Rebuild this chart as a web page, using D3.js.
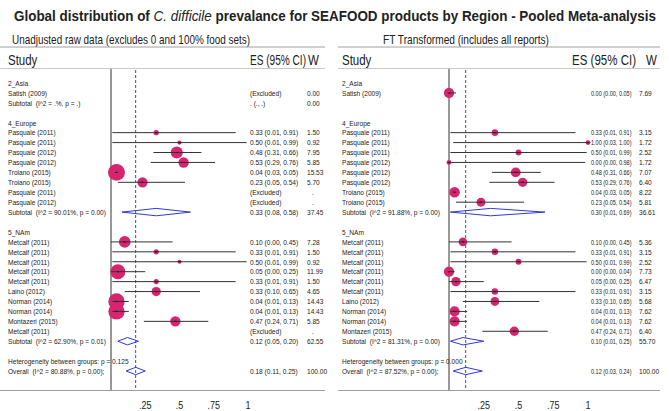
<!DOCTYPE html>
<html>
<head>
<meta charset="utf-8">
<script src="https://cdn.jsdelivr.net/npm/d3@7"></script>
<style>
  body { margin: 0; background: #fff; }
  svg text { font-family: "Liberation Sans", Arial, sans-serif; fill: #222; white-space: pre; }
</style>
</head>
<body>
<div id="chart"></div>
<script>
// ---- data (row index = position in the list) ----
var ticks = [0.25, 0.5, 0.75, 1];
var tickLabels = [".25", ".5", ".75", "1"];

// kinds: h = group header, s = study, x = excluded, t = subtotal, n = empty subtotal, g = heterogeneity, o = overall, "" = blank
var labelsL = ["2_Asia", "Satish (2009)", "Subtotal  (I^2 = .%, p = .)", "", "4_Europe",
  "Pasquale (2011)", "Pasquale (2011)", "Pasquale (2012)", "Pasquale (2012)", "Troiano (2015)", "Troiano (2015)",
  "Pasquale (2011)", "Pasquale (2012)", "Subtotal  (I^2 = 90.01%, p = 0.00)", "", "5_NAm",
  "Metcalf (2011)", "Metcalf (2011)", "Metcalf (2011)", "Metcalf (2011)", "Metcalf (2011)", "Laino (2012)",
  "Norman (2014)", "Norman (2014)", "Montazeri (2015)", "Metcalf (2011)", "Subtotal  (I^2 = 62.90%, p = 0.01)", "",
  "Heterogeneity between groups: p = 0.125", "Overall  (I^2 = 80.88%, p = 0.00);"];
var kindsL = ["h","x","n","","h","s","s","s","s","s","s","x","x","t","","h","s","s","s","s","s","s","s","s","s","x","t","","g","o"];
var esL = [null,null,null,null,null,0.33,0.50,0.48,0.53,0.04,0.23,null,null,0.33,null,null,0.10,0.33,0.50,0.05,0.33,0.33,0.04,0.04,0.47,null,0.12,null,null,0.18];
var loL = [null,null,null,null,null,0.01,0.01,0.31,0.29,0.03,0.05,null,null,0.08,null,null,0.00,0.01,0.01,0.00,0.01,0.10,0.01,0.01,0.24,null,0.05,null,null,0.11];
var hiL = [null,null,null,null,null,0.91,0.99,0.66,0.76,0.05,0.54,null,null,0.58,null,null,0.45,0.91,0.99,0.25,0.91,0.65,0.13,0.13,0.71,null,0.20,null,null,0.25];
var wL  = [null,0,0,null,null,1.50,0.92,7.95,5.85,15.53,5.70,null,null,37.45,null,null,7.28,1.50,0.92,11.99,1.50,4.65,14.43,14.43,5.85,null,62.55,null,null,100.00];
var pooledL = 0.18;

var labelsR = ["2_Asia", "Satish (2009)", "", "", "4_Europe",
  "Pasquale (2011)", "Pasquale (2011)", "Pasquale (2011)", "Pasquale (2012)", "Pasquale (2012)", "Pasquale (2012)",
  "Troiano (2015)", "Troiano (2015)", "Subtotal  (I^2 = 91.88%, p = 0.00)", "", "5_NAm",
  "Metcalf (2011)", "Metcalf (2011)", "Metcalf (2011)", "Metcalf (2011)", "Metcalf (2011)", "Metcalf (2011)",
  "Laino (2012)", "Norman (2014)", "Norman (2014)", "Montazeri (2015)", "Subtotal  (I^2 = 81.31%, p = 0.00)", "",
  "Heterogeneity between groups: p = 0.000", "Overall  (I^2 = 87.52%, p = 0.00);"];
var kindsR = ["h","s","","","h","s","s","s","s","s","s","s","s","t","","h","s","s","s","s","s","s","s","s","s","s","t","","g","o"];
var esR = [null,0.00,null,null,null,0.33,1.00,0.50,0.00,0.48,0.53,0.04,0.23,0.30,null,null,0.10,0.33,0.50,0.00,0.05,0.33,0.33,0.04,0.04,0.47,0.10,null,null,0.12];
var loR = [null,0.00,null,null,null,0.01,0.03,0.01,0.00,0.31,0.29,0.03,0.05,0.01,null,null,0.00,0.01,0.01,0.00,0.00,0.01,0.10,0.01,0.01,0.24,0.01,null,null,0.03];
var hiR = [null,0.05,null,null,null,0.91,1.00,0.99,0.98,0.66,0.76,0.05,0.54,0.69,null,null,0.45,0.91,0.99,0.04,0.25,0.91,0.65,0.13,0.13,0.71,0.25,null,null,0.24];
var wR  = [null,7.69,null,null,null,3.15,1.72,2.52,1.72,7.07,6.40,8.22,5.81,36.61,null,null,5.36,3.15,2.52,7.73,6.47,3.15,5.68,7.62,7.62,6.40,55.70,null,null,100.00];
var pooledR = 0.12;

var width = 669, height = 411;
var pink = "#d6246e", blue = "#2f3bd4", ink = "#333", rule = "#a0a0a0";
var fmt = d3.format(".2f");
var narrow = 0.82; // the original uses a condensed face

var svg = d3.select("#chart").append("svg")
    .attr("width", width)
    .attr("height", height);

function squeeze(sel, f) {
    sel.each(function () {
        var len = this.getComputedTextLength();
        if (len > 0) d3.select(this).attr("textLength", len * f).attr("lengthAdjust", "spacingAndGlyphs");
    });
}

// title
var title = svg.append("text")
    .attr("x", 14).attr("y", 21)
    .attr("textLength", 642).attr("lengthAdjust", "spacingAndGlyphs")
    .style("font-size", "15px").style("font-weight", "bold");
title.append("tspan").text("Global distribution of ");
title.append("tspan").style("font-style", "italic").style("font-weight", "normal").text("C. difficile");
title.append("tspan").text(" prevalance for SEAFOOD products by Region - Pooled Meta-analysis");

// rows -> y
var y = d3.scaleLinear().domain([0, 29]).range([83, 371]);

function panel(cfg, labels, kinds, es, lo, hi, w, pooled) {
    var g = svg.append("g");
    var x = d3.scaleLinear().domain([0, 1]).range([cfg.x0, cfg.x1]);
    var r = function (v) { return cfg.k * Math.sqrt(v); };

    g.append("text").attr("x", cfg.subX).attr("y", 44)
        .attr("textLength", cfg.subLen).attr("lengthAdjust", "spacingAndGlyphs")
        .style("font-size", "13px").text(cfg.sub);
    g.append("line").attr("x1", cfg.rule[0]).attr("x2", cfg.rule[1]).attr("y1", 47).attr("y2", 47)
        .attr("stroke", rule).attr("stroke-width", 1);
    g.append("line").attr("x1", cfg.rule[0]).attr("x2", cfg.rule[1]).attr("y1", 68.5).attr("y2", 68.5)
        .attr("stroke", "#c8c8c8").attr("stroke-width", 1);
    g.append("line").attr("x1", cfg.rule[0]).attr("x2", cfg.rule[1]).attr("y1", 390.5).attr("y2", 390.5)
        .attr("stroke", rule).attr("stroke-width", 1);

    // column headers
    g.append("text").attr("x", cfg.nameX).attr("y", 65).style("font-size", "14px").text("Study")
        .call(squeeze, narrow);
    g.append("text").attr("x", cfg.esHX).attr("y", 65)
        .attr("textLength", cfg.esHLen).attr("lengthAdjust", "spacingAndGlyphs")
        .style("font-size", "14px").text("ES (95% CI)");
    g.append("text").attr("x", cfg.wHX).attr("y", 65).style("font-size", "14px").text("W")
        .call(squeeze, narrow);

    // row texts
    labels.forEach(function (lab, i) {
        if (!lab) return;
        g.append("text").attr("x", cfg.nameX).attr("y", y(i)).attr("dy", "0.35em")
            .style("font-size", "8px").text(lab).call(squeeze, narrow);
        var k = kinds[i], esTxt = null, wTxt = null;
        if (k === "s" || k === "t" || k === "o") {
            esTxt = fmt(es[i]) + " (" + fmt(lo[i]) + ", " + fmt(hi[i]) + ")";
            wTxt = fmt(w[i]);
        } else if (k === "x") {
            esTxt = "(Excluded)";
            wTxt = w[i] == null ? "." : fmt(w[i]);
        } else if (k === "n") {
            esTxt = ". (., .)";
            wTxt = fmt(w[i]);
        }
        if (esTxt) g.append("text").attr("x", cfg.esX).attr("y", y(i)).attr("dy", "0.35em")
            .style("font-size", "8px").text(esTxt).call(squeeze, cfg.esNarrow);
        if (wTxt) g.append("text").attr("x", wTxt === "." ? cfg.wX + 5 : cfg.wX).attr("y", y(i)).attr("dy", "0.35em")
            .style("font-size", "8px").text(wTxt).call(squeeze, narrow);
    });

    // reference lines
    g.append("line").attr("x1", x(0)).attr("x2", x(0)).attr("y1", 69).attr("y2", 390)
        .attr("stroke", ink).attr("stroke-width", 1);
    g.append("line").attr("x1", x(pooled)).attr("x2", x(pooled)).attr("y1", 70).attr("y2", 390)
        .attr("stroke", "#555").attr("stroke-width", 1).attr("stroke-dasharray", "3,2");

    // study boxes
    var idx = d3.range(labels.length).filter(function (i) { return kinds[i] === "s"; });
    g.selectAll("circle.box").data(idx).enter().append("circle")
        .attr("class", "box")
        .attr("cx", function (i) { return x(es[i]); })
        .attr("cy", function (i) { return y(i); })
        .attr("r", function (i) { return r(w[i]); })
        .attr("fill", pink);
    g.selectAll("line.ci").data(idx).enter().append("line")
        .attr("class", "ci")
        .attr("x1", function (i) { return x(lo[i]); })
        .attr("x2", function (i) { return x(hi[i]); })
        .attr("y1", function (i) { return y(i); })
        .attr("y2", function (i) { return y(i); })
        .attr("stroke", ink).attr("stroke-width", 1);
    g.selectAll("line.pt").data(idx).enter().append("line")
        .attr("class", "pt")
        .attr("x1", function (i) { return x(es[i]) - 1.2; })
        .attr("x2", function (i) { return x(es[i]) + 1.2; })
        .attr("y1", function (i) { return y(i); })
        .attr("y2", function (i) { return y(i); })
        .attr("stroke", "#222").attr("stroke-width", 1.2);

    // pooled diamonds
    var didx = d3.range(labels.length).filter(function (i) { return kinds[i] === "t" || kinds[i] === "o"; });
    g.selectAll("path.dia").data(didx).enter().append("path")
        .attr("class", "dia")
        .attr("d", function (i) {
            var c = y(i);
            return "M" + x(lo[i]) + "," + c + "L" + x(es[i]) + "," + (c - 3.7) +
                "L" + x(hi[i]) + "," + c + "L" + x(es[i]) + "," + (c + 3.7) + "Z";
        })
        .attr("fill", "none").attr("stroke", blue).attr("stroke-width", 1);

    // axis labels
    g.selectAll("text.tick").data(ticks).enter().append("text")
        .attr("class", "tick")
        .attr("x", function (d) { return x(d); })
        .attr("y", 409)
        .attr("text-anchor", "middle")
        .style("font-size", "11px")
        .text(function (d, i) { return tickLabels[i]; })
        .call(squeeze, narrow);
}

panel({ x0: 111, x1: 248, k: 2.15, nameX: 8, esX: 250, wX: 307, rule: [0, 325], esNarrow: 0.82,
        sub: "Unadjusted raw data (excludes 0 and 100% food sets)", subX: 12, subLen: 238,
        esHX: 250, esHLen: 56, wHX: 308 },
      labelsL, kindsL, esL, loL, hiL, wL, pooledL);

panel({ x0: 449, x1: 588, k: 1.85, nameX: 342, esX: 591, wX: 639, rule: [338, 660], esNarrow: 0.69,
        sub: "FT Transformed (includes all reports)", subX: 383, subLen: 166,
        esHX: 572, esHLen: 64, wHX: 646 },
      labelsR, kindsR, esR, loR, hiR, wR, pooledR);
</script>
</body>
</html>
